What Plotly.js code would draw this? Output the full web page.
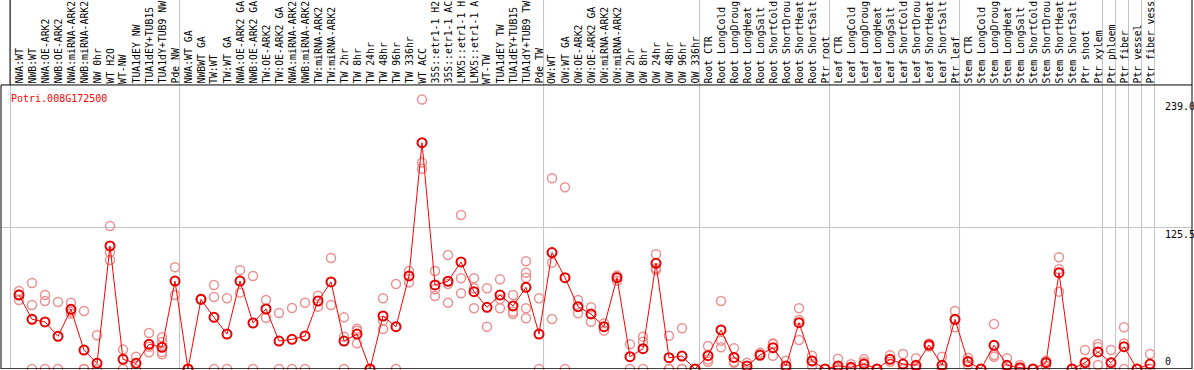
<!DOCTYPE html>
<html>
<head>
<meta charset="utf-8">
<script src="https://cdn.plot.ly/plotly-3.0.1.min.js"></script>
<style>html,body{margin:0;padding:0;background:#fff;}#chart{width:1194px;height:370px;}</style>
</head>
<body>
<div id="chart"></div>
<script>
const geneName = "Potri.008G172500";
const sampleLabels = [
  "NWA:WT","NWB:WT","NWA:OE-ARK2","NWB:OE-ARK2","NWA:miRNA-ARK2","NWB:miRNA-ARK2","NW 0hr","WT H2O","WT-NW","TUA1dEY NW","TUA1dEY+TUB15","TUA1dY+TUB9 NW","Pde NW",
  "NWA:WT GA","NWBWT GA","TW:WT","TW:WT GA","NWA:OE-ARK2 GA","NWB:OE-ARK2 GA","TW:OE-ARK2","TW:OE-ARK2 GA","NWA:miRNA-ARK2","NWB:miRNA-ARK2","TW:miRNA-ARK2","TW:miRNA-ARK2","TW 2hr","TW 8hr","TW 24hr","TW 48hr","TW 96hr","TW 336hr","WT ACC","35S::etr1-1 H2","35S::etr1-1 AC","LMX5::etr1-1 H","LMX5::etr1-1 A","WT-TW","TUA1dEY TW","TUA1dEY+TUB15","TUA1dY+TUB9 TW","Pde TW",
  "OW:WT","OW:WT GA","OW:OE-ARK2","OW:OE-ARK2 GA","OW:miRNA-ARK2","OW:miRNA-ARK2","OW 2hr","OW 8hr","OW 24hr","OW 48hr","OW 96hr","OW 336hr",
  "Root CTR","Root LongCold","Root LongDroug","Root LongHeat","Root LongSalt","Root ShortCold","Root ShortDrou","Root ShortHeat","Root ShortSalt","Ptr root",
  "Leaf CTR","Leaf LongCold","Leaf LongDroug","Leaf LongHeat","Leaf LongSalt","Leaf ShortCold","Leaf ShortDrou","Leaf ShortHeat","Leaf ShortSalt","Ptr leaf",
  "Stem CTR","Stem LongCold","Stem LongDroug","Stem LongHeat","Stem LongSalt","Stem ShortCold","Stem ShortDrou","Stem ShortHeat","Stem ShortSalt","Ptr shoot","Ptr xylem",
  "Ptr phloem","Ptr fiber","Ptr vessel","Ptr fiber vess"
];
const groupStarts = [0, 13, 41, 53, 63, 73, 84, 85, 86, 87, 88];
const meanValues = [
  65.6,44.1,41.7,29.0,52.9,16.8,5.0,109.1,8.6,5.0,21.9,19.2,78.0,
  0,61.8,45.8,31.0,78.0,40.8,53.2,24.8,26.3,29.3,60.3,77.2,24.8,31.0,0,47.0,37.5,82.5,200.7,74.5,77.8,94.9,68.6,54.7,65.6,55.9,72.4,31.0,
  103.2,81.0,55.3,48.8,37.5,81.0,10.9,18.0,93.7,10.0,11.5,0,
  11.8,34.6,10.3,2.7,12.4,18.9,2.7,41.1,7.1,0,
  2.7,1.5,4.4,0,8.6,4.4,3.3,21.3,3.3,44.1,
  6.5,0,21.0,3.3,1.2,0,5.6,85.4,0,5.6,15.1,
  5.6,19.8,0,4.4
];
const replicateValues = [
  [69.2,66.0,61.2],[76.3,56.8,0],[65.6,60.3,0],[59.4,0],[58.8,50.8,49.1],[51.4,0,0],[29.9,0,0],[126.8,103.5,96.7],[17.2,0],[10.9,0],[31.9,19.7,14.8],[28.1,24.0,15.0,13.0],[90.2,65.6],
  [0],[62.1,61.5],[74.5,63.9,0],[62.7,0],[87.5,67.7],[82.5,0],[61.2,45.5],[49.7,0],[54.1,0],[58.8,0],[65.0,55.3],[98.4,56.8],[45.8,28.7,0],[35.8,34.0,22.8],[0],[62.7,42.8,35.5],[75.4,0],[86.9,76.6],[239.0,183.0,177.6],[86.9,70.7,64.7],[101.1,75.4,58.8],[136.6,80.4,67.1],[80.4,71.6,53.8],[71.6,37.5],[79.5,61.8,53.8],[65.6,50.8,48.8],[95.5,85.4,81.0,53.8,45.0],[62.7,0],
  [169.1,94.3,44.3],[161.1,0],[61.2,49.4],[54.7,41.9],[40.5,34.0],[82.8,81.9,78.3],[21.9,0],[28.7,24.2,0],[101.7,89.3,87.8],[29.5,0,0],[36.1,0,0],[0],
  [20.4,8.5,6.5],[60.3,25.1,19.2],[18.3,6.5,5.6],[5.6,0],[14.5,11.8],[22.8,21.9,11.8],[7.4,0,0],[53.8,43.5,25.7],[11.8,7.4,2.9],[0],
  [9.1,0,0],[4.2,0],[8.6,6.2,0],[0],[12.1,6.5],[13.3,0,0],[9.5,2.1,0],[22.6,21.3,20.0],[10.9,0,0],[51.4,43.5,37.0],
  [10.0,7.4,3.5],[0],[39.9,12.4,10.9],[9.5,0,0],[3.5,0,0],[0],[7.4,6.6,2.7],[99.1,88.5,68.6],[0],[16.8,0,0],[22.2,19.6,3.5],
  [16.8,0,0],[37.0,22.6,0],[0],[13.3,0,0]
];
const yTickVals = [239.0, 125.5, 0];
const yTickText = ["239.0", "125.5", "0"];

const MONO = "DejaVu Sans Mono, Liberation Mono, monospace";
const xIdx = sampleLabels.map((_, i) => i);
const repX = [], repY = [];
replicateValues.forEach((arr, i) => arr.forEach(v => { repX.push(i); repY.push(v); }));

const yTop = 327.2;      // axis range top (label area inside plot)
const ySep = 251.86;     // separator line between labels and data
const xMin = -1.385, xMax = xMin + 1191 / 13;

const traces = [
  { x: repX, y: repY, type: 'scatter', mode: 'markers', cliponaxis: false, hoverinfo: 'skip',
    marker: { symbol: 'circle-open', size: 9, color: 'rgb(234,145,145)', line: { width: 1.5, color: 'rgb(234,145,145)' } } },
  { x: xIdx, y: meanValues, type: 'scatter', mode: 'lines+markers', cliponaxis: false, hoverinfo: 'skip',
    line: { color: '#ff0000', width: 1 },
    marker: { symbol: 'circle-open', size: 9, color: '#e60000', line: { width: 2, color: '#e60000' } } }
];

const shapes = [];
const gray = '#c4c4c4';
groupStarts.forEach(g => {
  shapes.push({ type: 'line', xref: 'x', yref: 'paper', x0: g - 0.65, x1: g - 0.65, y0: 0, y1: 1, line: { color: gray, width: 1 }, layer: 'below' });
});
shapes.push({ type: 'line', xref: 'paper', yref: 'y', x0: 0, x1: 1, y0: yTickVals[1], y1: yTickVals[1], line: { color: gray, width: 1 }, layer: 'below' });
shapes.push({ type: 'line', xref: 'paper', yref: 'y', x0: 0, x1: 1, y0: ySep, y1: ySep, line: { color: '#000', width: 1 } });
shapes.push({ type: 'line', xref: 'paper', yref: 'y', x0: 0, x1: 1, y0: 0, y1: 0, line: { color: '#000', width: 1.5 } });
shapes.push({ type: 'line', xref: 'paper', yref: 'y', x0: 0, x1: 0, y0: 0, y1: ySep, line: { color: '#000', width: 1 } });
shapes.push({ type: 'line', xref: 'paper', yref: 'paper', x0: 1, x1: 1, y0: 0, y1: 1, line: { color: '#000', width: 1 } });
shapes.push({ type: 'line', xref: 'x', yref: 'y', x0: groupStarts[0] - 0.69, x1: groupStarts[0] - 0.69, y0: ySep, y1: yTop, line: { color: '#000', width: 1 } });

const annotations = sampleLabels.map((t, i) => ({
  x: i, y: ySep, xref: 'x', yref: 'y', text: t, showarrow: false, textangle: -90,
  xanchor: 'center', yanchor: 'bottom', yshift: 0, borderpad: 0,
  font: { family: MONO, size: 9.8, color: '#000' }
}));
annotations.push({ x: 0.0075, y: (369 - 92) / 369, xref: 'paper', yref: 'paper', text: geneName, showarrow: false,
  xanchor: 'left', yanchor: 'top', borderpad: 0, font: { family: MONO, size: 10, color: '#ff0000' } });
yTickVals.forEach((v, k) => {
  annotations.push({ x: (1164 - 1) / 1191, y: v, xref: 'paper', yref: 'y', text: yTickText[k], showarrow: false,
    xanchor: 'left', yanchor: v === 0 ? 'bottom' : 'top', borderpad: 0, yshift: v === 0 ? 1 : -1,
    font: { family: MONO, size: 10, color: '#000' } });
});

const layout = {
  width: 1194, height: 370,
  margin: { l: 1, r: 2, t: 0, b: 1, pad: 0 },
  paper_bgcolor: '#fff', plot_bgcolor: '#fff',
  showlegend: false, hovermode: false,
  xaxis: { range: [xMin, xMax], showgrid: false, zeroline: false, showticklabels: false, ticks: '', showline: false, fixedrange: true },
  yaxis: { range: [0, yTop], showgrid: false, zeroline: false, showticklabels: false, ticks: '', showline: false, fixedrange: true },
  shapes: shapes,
  annotations: annotations
};

Plotly.newPlot('chart', traces, layout, { displayModeBar: false, staticPlot: true });
</script>
</body>
</html>
